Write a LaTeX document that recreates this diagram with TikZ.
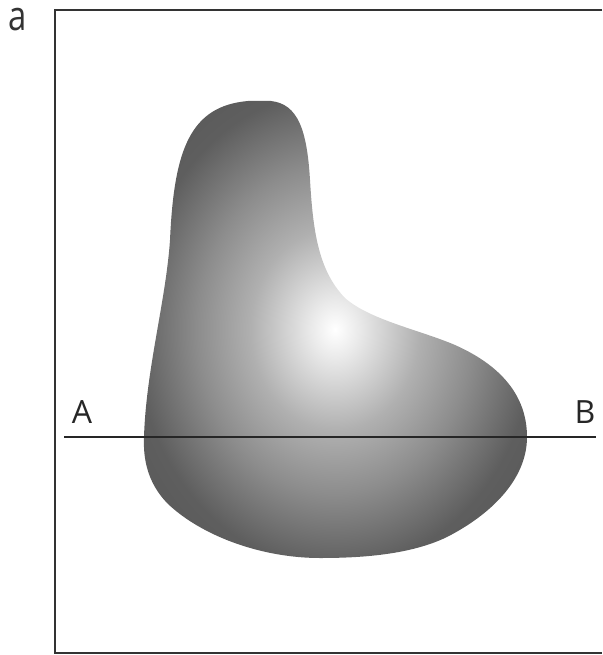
\documentclass[tikz,border=0pt]{standalone}
\usepackage{fontspec}
\setmainfont{Open Sans}
\pgfdeclareradialshading{blobshade}{\pgfpointorigin}{color(0bp)=(white); color(3bp)=(black!8); color(11bp)=(black!31); color(18bp)=(black!45); color(26bp)=(black!63); color(50bp)=(black!72)}
\tikzset{
 frameline/.style={line width=1.3pt,draw=black!80},
 cutline/.style={line width=1.6pt,draw=black!85},
 ptlabel/.style={anchor=base,inner sep=0,font=\fontsize{32}{32}\selectfont,text=black!85},
 panellabel/.style={anchor=base,inner sep=0,font=\fontsize{41}{41}\selectfont,xscale=.8,text=black!80},
 blob/.style={shading=blobshade}
}
\begin{document}
\begin{tikzpicture}[x=1pt,y=-1pt]
\path[use as bounding box] (0,0) rectangle (602,655);
\node[panellabel] (panel) at (18,31) {a};
\draw[frameline] (602,10) -- (55,10) -- (55,653) -- (602,653);
% shaded region
\path[blob] (248,101) -- (271,101)
 .. controls (298,104) and (307,130) .. (310,180)
 .. controls (313,230) and (318,270) .. (345,298)
 .. controls (370,320) and (420,330) .. (455,345)
 .. controls (500,365) and (527,395) .. (527,437)
 .. controls (527,480) and (490,515) .. (447,537)
 .. controls (410,555) and (360,558) .. (320,558)
 .. controls (260,558) and (200,535) .. (167,503)
 .. controls (148,483) and (143,460) .. (144,437)
 .. controls (146,370) and (166,300) .. (170,240)
 .. controls (174,150) and (190,106) .. (248,101) -- cycle;
% section line
\coordinate (cutA) at (64,437);
\coordinate (cutB) at (596,437);
\draw[cutline] (cutA) -- (cutB);
\node[ptlabel] (labA) at (82,423) {A};
\node[ptlabel] (labB) at (585,423) {B};
\end{tikzpicture}
\end{document}
